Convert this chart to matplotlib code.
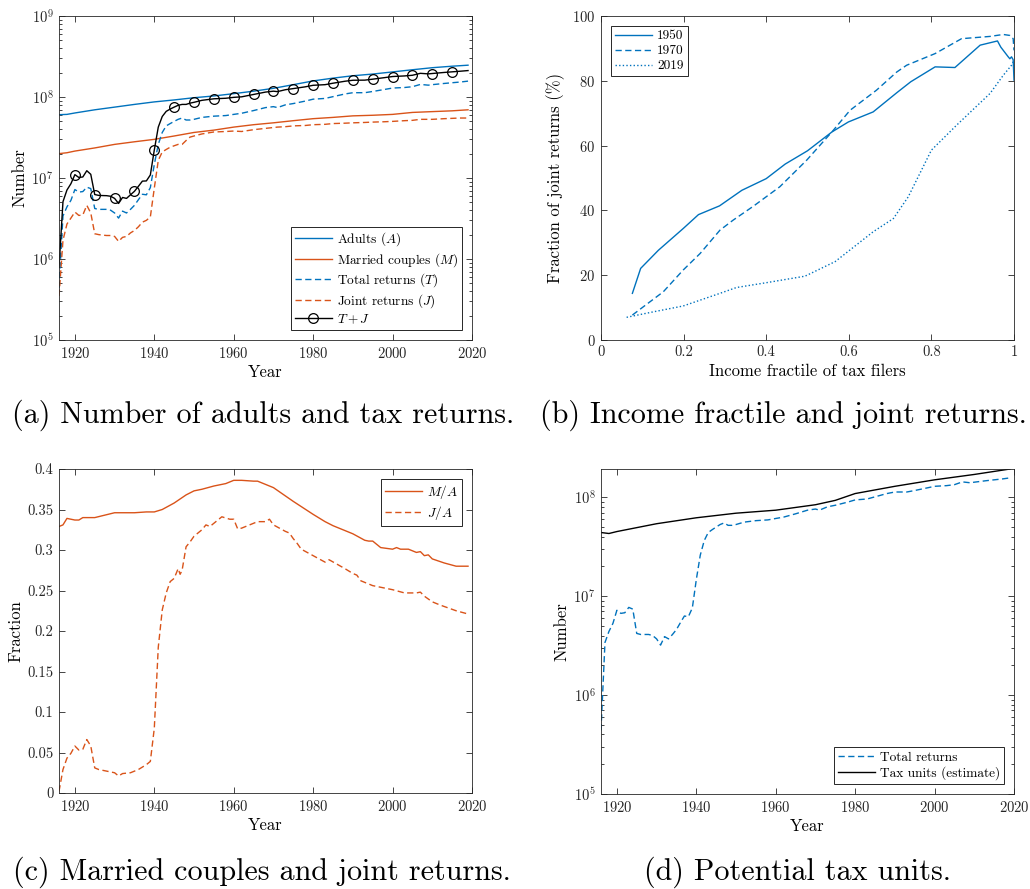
import numpy as np
import matplotlib
matplotlib.use("Agg")
import matplotlib.pyplot as plt
from matplotlib.ticker import LogLocator, NullFormatter

plt.rcParams.update({
    "font.family": "serif",
    "font.serif": ["cmr10", "DejaVu Serif"],
    "mathtext.fontset": "cm",
    "axes.formatter.use_mathtext": True,
    "axes.unicode_minus": False,
    "font.size": 11,
})

BLUE = "#0072BD"
ORANGE = "#D95319"
AXC = "#262626"

# ---------------- data ----------------
# (a)/(d) returns data
ret_years = [1916, 1917, 1918, 1919, 1920, 1921, 1922, 1923, 1924, 1925, 1926, 1927, 1928,
             1929, 1930, 1931, 1932, 1933, 1934, 1935, 1936, 1937, 1938, 1939, 1940, 1941,
             1942, 1943, 1944, 1945, 1946, 1947, 1948, 1949, 1950, 1952, 1955, 1958, 1960,
             1962, 1965, 1968, 1970, 1971, 1973, 1975, 1978, 1980, 1983, 1985, 1988, 1990,
             1993, 1995, 1998, 2000, 2003, 2005, 2007, 2009, 2010, 2013, 2015, 2017, 2019]
total_returns = [4.4e5, 3.4e6, 4.4e6, 5.3e6, 7.2e6, 6.7e6, 6.8e6, 7.7e6, 7.4e6, 4.2e6, 4.1e6,
                 4.1e6, 4.1e6, 4.0e6, 3.7e6, 3.2e6, 3.9e6, 3.7e6, 4.1e6, 4.6e6, 5.4e6, 6.3e6,
                 6.2e6, 7.6e6, 1.47e7, 2.6e7, 3.65e7, 4.4e7, 4.7e7, 5.0e7, 5.3e7, 5.5e7, 5.2e7,
                 5.2e7, 5.3e7, 5.6e7, 5.8e7, 5.9e7, 6.1e7, 6.3e7, 6.8e7, 7.4e7, 7.6e7, 7.4e7,
                 8.0e7, 8.3e7, 8.9e7, 9.4e7, 9.6e7, 1.01e8, 1.09e8, 1.13e8, 1.13e8, 1.17e8,
                 1.24e8, 1.29e8, 1.31e8, 1.34e8, 1.43e8, 1.40e8, 1.42e8, 1.47e8, 1.50e8,
                 1.53e8, 1.57e8]
joint_returns = [3.5e5, 1.7e6, 2.7e6, 3.2e6, 3.8e6, 3.45e6, 3.5e6, 4.6e6, 3.7e6, 2.05e6, 2.0e6,
                 1.97e6, 1.95e6, 1.95e6, 1.9e6, 1.65e6, 1.85e6, 1.9e6, 2.1e6, 2.25e6, 2.5e6,
                 2.85e6, 3.0e6, 3.3e6, 7.5e6, 1.65e7, 2.1e7, 2.25e7, 2.4e7, 2.5e7, 2.6e7, 2.6e7,
                 2.9e7, 3.2e7, 3.3e7, 3.5e7, 3.7e7, 3.75e7, 3.8e7, 3.75e7, 3.95e7, 4.1e7, 4.2e7,
                 4.25e7, 4.3e7, 4.4e7, 4.45e7, 4.55e7, 4.6e7, 4.7e7, 4.75e7, 4.8e7, 4.85e7,
                 4.9e7, 4.95e7, 5.0e7, 5.1e7, 5.15e7, 5.3e7, 5.3e7, 5.3e7, 5.4e7, 5.45e7,
                 5.5e7, 5.5e7]

pop_years = [1916, 1918, 1920, 1925, 1930, 1935, 1940, 1945, 1950, 1955, 1960, 1965, 1970,
             1975, 1980, 1985, 1990, 1995, 2000, 2005, 2010, 2015, 2019]
adults = [6.05e7, 6.1e7, 6.35e7, 6.95e7, 7.5e7, 8.1e7, 8.7e7, 9.2e7, 9.8e7, 1.03e8, 1.1e8,
          1.18e8, 1.28e8, 1.42e8, 1.58e8, 1.71e8, 1.83e8, 1.92e8, 2.04e8, 2.17e8, 2.3e8,
          2.4e8, 2.47e8]
married = [2.0e7, 2.05e7, 2.15e7, 2.35e7, 2.6e7, 2.8e7, 3.0e7, 3.3e7, 3.65e7, 3.9e7, 4.25e7,
           4.55e7, 4.8e7, 5.1e7, 5.4e7, 5.6e7, 5.85e7, 5.95e7, 6.1e7, 6.45e7, 6.6e7, 6.75e7,
           6.95e7]

# (b) income fractile
frac_1950 = [0.076, 0.096, 0.139, 0.199, 0.236, 0.287, 0.341, 0.400, 0.446, 0.500, 0.559,
             0.599, 0.659, 0.716, 0.750, 0.809, 0.857, 0.918, 0.960, 0.968, 0.974, 0.986,
             0.990, 0.994, 0.998, 1.0]
joint_1950 = [14.4, 22.1, 27.7, 34.4, 38.7, 41.4, 46.2, 49.8, 54.3, 58.4, 64.2, 67.3, 70.4,
              76.3, 79.7, 84.3, 84.1, 91.0, 92.3, 90.4, 89.4, 87.4, 86.8, 87.4, 86.5, 80.2]
frac_1970 = [0.076, 0.103, 0.151, 0.199, 0.240, 0.288, 0.320, 0.369, 0.433, 0.498, 0.559,
             0.603, 0.667, 0.716, 0.740, 0.809, 0.873, 0.942, 0.974, 0.990, 0.998, 1.0]
joint_1970 = [7.7, 10.3, 14.9, 21.6, 26.7, 33.9, 37.0, 41.3, 47.3, 55.5, 64.2, 70.9, 77.1,
              82.7, 84.8, 88.4, 93.0, 93.7, 94.3, 94.0, 93.0, 89.4]
frac_2019 = [0.062, 0.127, 0.199, 0.240, 0.288, 0.328, 0.401, 0.494, 0.567, 0.659, 0.708,
             0.744, 0.800, 0.861, 0.942, 0.974, 0.994, 1.0]
joint_2019 = [7.0, 8.7, 10.5, 12.3, 14.4, 16.2, 17.7, 19.7, 24.2, 33.4, 37.5, 44.2, 58.6,
              66.3, 76.1, 81.7, 84.8, 86.3]

# (c) fractions
ma_years = [1916, 1917, 1918, 1920, 1921, 1922, 1925, 1930, 1935, 1938, 1940, 1942, 1945,
            1948, 1950, 1952, 1955, 1958, 1960, 1962, 1965, 1966, 1968, 1970, 1975, 1980,
            1983, 1985, 1987, 1990, 1993, 1994, 1995, 1997, 2000, 2001, 2002, 2004, 2006,
            2007, 2008, 2009, 2010, 2013, 2016, 2019]
m_over_a = [0.329, 0.331, 0.339, 0.337, 0.337, 0.340, 0.340, 0.346, 0.346, 0.347, 0.347,
            0.350, 0.358, 0.368, 0.373, 0.375, 0.379, 0.382, 0.386, 0.386, 0.385, 0.385,
            0.381, 0.377, 0.360, 0.344, 0.335, 0.330, 0.326, 0.320, 0.312, 0.311, 0.311,
            0.303, 0.301, 0.303, 0.301, 0.301, 0.297, 0.298, 0.293, 0.294, 0.289, 0.284,
            0.280, 0.280]
ja_years = [1916, 1917, 1918, 1919, 1920, 1921, 1922, 1923, 1924, 1925, 1926, 1928, 1930,
            1931, 1932, 1934, 1936, 1938, 1939, 1940, 1941, 1942, 1943, 1944, 1945, 1946,
            1946.5, 1947, 1948, 1949, 1950, 1952, 1953, 1954, 1956, 1957, 1959, 1960, 1961,
            1962, 1964, 1966, 1968, 1969, 1970, 1973, 1974, 1975, 1976, 1977, 1980, 1983,
            1984, 1988, 1990, 1991, 1992, 1995, 2000, 2003, 2006, 2007, 2008, 2010, 2012,
            2016, 2019]
j_over_a = [0.002, 0.029, 0.043, 0.049, 0.058, 0.053, 0.054, 0.066, 0.058, 0.031, 0.029,
            0.027, 0.025, 0.021, 0.024, 0.025, 0.029, 0.035, 0.039, 0.080, 0.180, 0.226,
            0.247, 0.261, 0.265, 0.277, 0.270, 0.275, 0.304, 0.310, 0.317, 0.325, 0.331,
            0.329, 0.337, 0.341, 0.338, 0.338, 0.326, 0.327, 0.331, 0.335, 0.335, 0.338,
            0.331, 0.323, 0.321, 0.314, 0.308, 0.301, 0.293, 0.285, 0.288, 0.277, 0.271,
            0.269, 0.262, 0.256, 0.251, 0.247, 0.247, 0.248, 0.243, 0.236, 0.232, 0.225,
            0.221]

# (d) tax units estimate
tu_years = [1916, 1918, 1920, 1930, 1940, 1950, 1960, 1970, 1975, 1980, 1990, 2000, 2010, 2019]
tax_units = [4.4e7, 4.3e7, 4.5e7, 5.4e7, 6.2e7, 6.9e7, 7.4e7, 8.4e7, 9.3e7, 1.09e8, 1.29e8,
             1.5e8, 1.7e8, 1.93e8]

captions = ["(a) Number of adults and tax returns.",
            "(b) Income fractile and joint returns.",
            "(c) Married couples and joint returns.",
            "(d) Potential tax units."]

# ---------------- figure ----------------
W, H = 1030, 889
fig = plt.figure(figsize=(W / 100, H / 100), dpi=100)


def ax_at(l, t, r, b):
    return fig.add_axes([l / W, 1 - b / H, (r - l) / W, (b - t) / H])


DASH = (0, (4.5, 2.5))
DOT = (0, (1, 1.6))
TICK_FS = 10.5
LABEL_FS = 12
LEG_FS = 9.6


def style(ax, log=False):
    for s in ax.spines.values():
        s.set_color(AXC)
        s.set_linewidth(0.6)
    ax.tick_params(which="both", direction="in", top=True, right=True, colors=AXC,
                   labelcolor=AXC, width=0.6, labelsize=TICK_FS)
    ax.tick_params(which="major", length=4, pad=4)
    ax.tick_params(which="minor", length=2.2)
    if log:
        ax.set_yscale("log")
        ax.yaxis.set_major_locator(LogLocator(base=10, numticks=10))
        ax.yaxis.set_minor_locator(LogLocator(base=10, subs=np.arange(2, 10), numticks=20))
        ax.yaxis.set_minor_formatter(NullFormatter())


def legend(ax, loc, **kw):
    lg = ax.legend(loc=loc, fancybox=False, framealpha=1, edgecolor=AXC, fontsize=LEG_FS,
                   handlelength=2.8, borderpad=0.3, labelspacing=0.2, handletextpad=0.35,
                   borderaxespad=0.75, **kw)
    lg.get_frame().set_linewidth(0.7)
    return lg


years_fmt = [1920, 1940, 1960, 1980, 2000, 2020]

# (a)
ax = ax_at(59, 16, 472, 340)
style(ax, log=True)
tj = np.array(total_returns) + np.array(joint_returns)
mk = [i for i, y in enumerate(ret_years) if y % 5 == 0 and 1920 <= y <= 2015]
ax.plot(pop_years, adults, color=BLUE, lw=1.0, label="Adults $(A)$")
ax.plot(pop_years, married, color=ORANGE, lw=1.0, label="Married couples $(M)$")
ax.plot(ret_years, total_returns, color=BLUE, lw=1.0, ls=DASH, label="Total returns $(T)$")
ax.plot(ret_years, joint_returns, color=ORANGE, lw=1.0, ls=DASH, label="Joint returns $(J)$")
ax.plot(ret_years, tj, color="black", lw=1.0, marker="o", markersize=7, mfc="none",
        mec="black", mew=0.9, markevery=mk, label="$T+J$")
ax.set_xlim(1916, 2020)
ax.set_ylim(1e5, 1e9)
ax.set_xticks(years_fmt)
ax.set_xlabel("Year", fontsize=LABEL_FS, labelpad=3)
ax.set_ylabel("Number", fontsize=LABEL_FS, labelpad=3)
legend(ax, "lower right")

# (b)
ax = ax_at(601, 16, 1014, 340)
style(ax)
ax.plot(frac_1950, joint_1950, color=BLUE, lw=1.0, label="1950")
ax.plot(frac_1970, joint_1970, color=BLUE, lw=1.0, ls=DASH, label="1970")
ax.plot(frac_2019, joint_2019, color=BLUE, lw=1.0, ls=DOT, label="2019")
ax.set_xlim(0, 1)
ax.set_ylim(0, 100)
ax.set_xticks([0, 0.2, 0.4, 0.6, 0.8, 1])
ax.set_xticklabels(["0", "0.2", "0.4", "0.6", "0.8", "1"])
ax.set_yticks([0, 20, 40, 60, 80, 100])
ax.set_xlabel("Income fractile of tax filers", fontsize=LABEL_FS, labelpad=3)
ax.set_ylabel("Fraction of joint returns (%)", fontsize=LABEL_FS, labelpad=5)
legend(ax, "upper left")

# (c)
ax = ax_at(59, 469, 472, 793)
style(ax)
ax.plot(ma_years, m_over_a, color=ORANGE, lw=1.0, label="$M/A$")
ax.plot(ja_years, j_over_a, color=ORANGE, lw=1.0, ls=DASH, label="$J/A$")
ax.set_xlim(1916, 2020)
ax.set_ylim(0, 0.4)
ax.set_xticks(years_fmt)
yt = [0, 0.05, 0.1, 0.15, 0.2, 0.25, 0.3, 0.35, 0.4]
ax.set_yticks(yt)
ax.set_yticklabels(["0", "0.05", "0.1", "0.15", "0.2", "0.25", "0.3", "0.35", "0.4"])
ax.set_xlabel("Year", fontsize=LABEL_FS, labelpad=3)
ax.set_ylabel("Fraction", fontsize=LABEL_FS, labelpad=3)
legend(ax, "upper right")

# (d)
ax = ax_at(601, 469, 1014, 794)
style(ax, log=True)
ax.plot(ret_years, total_returns, color=BLUE, lw=1.0, ls=DASH, label="Total returns")
ax.plot(tu_years, tax_units, color="black", lw=1.0, label="Tax units (estimate)")
ax.set_xlim(1916, 2020)
ax.set_ylim(1e5, max(tax_units))
ax.set_xticks(years_fmt)
ax.set_xlabel("Year", fontsize=LABEL_FS, labelpad=3)
ax.set_ylabel("Number", fontsize=LABEL_FS, labelpad=3)
legend(ax, "lower right")

# captions
cap_pos = [(263, 415), (783, 415), (262, 872), (798, 872)]
for (cx, cy), txt in zip(cap_pos, captions):
    fig.text(cx / W, 1 - cy / H, txt, ha="center", va="center", fontsize=21.7, color="black")

fig.savefig("out.png", dpi=100)
